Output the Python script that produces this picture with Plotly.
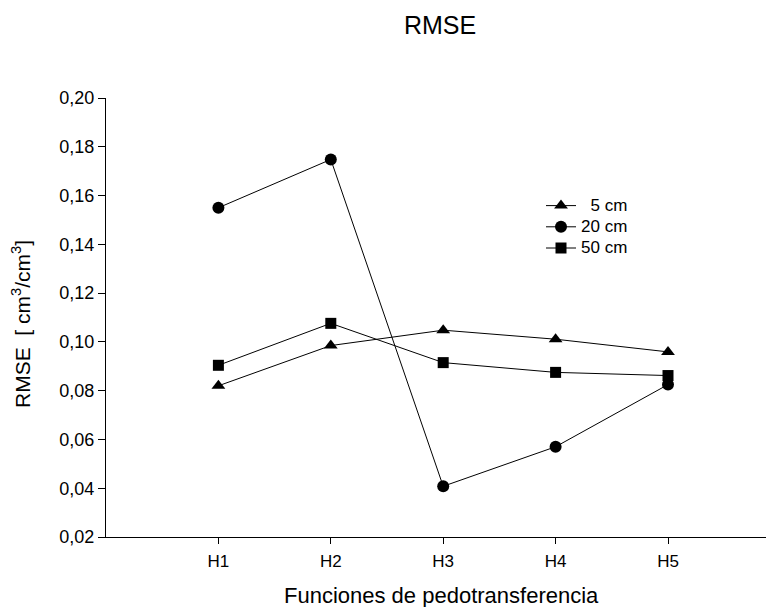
import plotly.graph_objects as go

categories = ["H1", "H2", "H3", "H4", "H5"]
x_pos = [1, 2, 3, 4, 5]
series_names = ["\u20075 cm", "20 cm", "50 cm"]
rmse_5cm = [0.0820, 0.0985, 0.1048, 0.1011, 0.0959]
rmse_20cm = [0.1550, 0.1748, 0.0408, 0.0570, 0.0825]
rmse_50cm = [0.0904, 0.1076, 0.0915, 0.0875, 0.0862]
symbols = ["triangle-up", "circle", "square"]
marker_sizes = [12, 12, 11]

FONT = "Arial, Liberation Sans, sans-serif"

fig = go.Figure()
for name, vals, sym, ms in zip(series_names, [rmse_5cm, rmse_20cm, rmse_50cm], symbols, marker_sizes):
    fig.add_trace(go.Scatter(
        x=x_pos, y=vals, name='<span style="font-size:17px">' + name + '</span>',
        mode="lines+markers",
        line=dict(color="black", width=1),
        marker=dict(symbol=sym, size=ms, color="black"),
    ))

L, T, B, R = 106, 98, 70, 0
W, H = 766, 607
pw = W - L - R
ph = H - T - B

fig.update_layout(
    width=W, height=H,
    margin=dict(l=L, r=R, t=T, b=B, pad=0),
    paper_bgcolor="white", plot_bgcolor="white",
    separators=",.",
    font=dict(family=FONT, size=17, color="black"),
    showlegend=True,
    legend=dict(
        x=(541 - L) / pw, y=1 - (190 - T) / ph, xanchor="left", yanchor="top",
        bgcolor="rgba(0,0,0,0)", font=dict(size=14, family=FONT),
        tracegroupgap=0, itemsizing="trace",
    ),
    title=dict(text="RMSE", x=440 / W, xanchor="center", y=1 - 25 / H, yanchor="middle",
               xref="container", yref="container", font=dict(size=25, family=FONT)),
    xaxis=dict(
        range=[0, pw / 112.4], tickmode="array", tickvals=x_pos, ticktext=categories,
        showgrid=False, zeroline=False, showline=True, linecolor="black", linewidth=1,
        ticks="outside", ticklen=6, tickcolor="black", tickwidth=1,
        tickfont=dict(size=17), ticklabelstandoff=3,
    ),
    yaxis=dict(
        range=[0.02, 0.20], tickmode="array",
        tickvals=[0.02, 0.04, 0.06, 0.08, 0.10, 0.12, 0.14, 0.16, 0.18, 0.20],
        tickformat=".2f",
        showgrid=False, zeroline=False, showline=True, linecolor="black", linewidth=1,
        ticks="outside", ticklen=7, tickcolor="black", tickwidth=1,
        tickfont=dict(size=18),
    ),
    annotations=[
        dict(text="Funciones de pedotransferencia", xref="paper", yref="paper",
             x=(441 - L) / pw, y=-(581 - (H - B)) / ph, xanchor="center", yanchor="top",
             showarrow=False, font=dict(size=22, family=FONT)),
        dict(text="RMSE  [ cm<sup>3</sup>/cm<sup>3</sup>]", xref="paper", yref="paper",
             x=(21 - L) / pw, y=1 - (324 - T) / ph, xanchor="center", yanchor="middle", textangle=-90,
             showarrow=False, font=dict(size=21, family=FONT)),
    ],
)

fig.write_html("out.html")
